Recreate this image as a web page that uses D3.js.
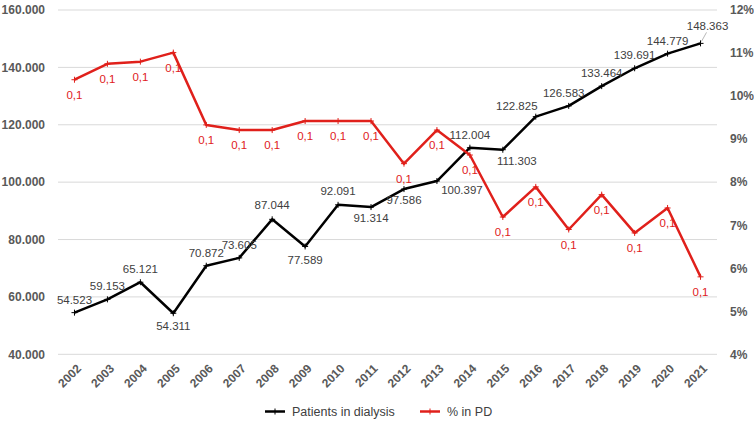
<!DOCTYPE html>
<html>
<head>
<meta charset="utf-8">
<script src="https://cdn.jsdelivr.net/npm/d3@7"></script>
<style>
  html, body { margin: 0; padding: 0; background: #fff; }
  svg { display: block; font-family: "Liberation Sans", Arial, sans-serif; }
</style>
</head>
<body>
<svg id="chart" width="754" height="425"></svg>
<script>
// ---- data ----
const years = ["2002","2003","2004","2005","2006","2007","2008","2009","2010","2011",
               "2012","2013","2014","2015","2016","2017","2018","2019","2020","2021"];
const patients = [54523, 59153, 65121, 54311, 70872, 73605, 87044, 77589, 92091, 91314,
                  97586, 100397, 112004, 111303, 122825, 126583, 133464, 139691, 144779, 148363];
const pdShare = [0.1038, 0.1075, 0.1080, 0.1101, 0.0933, 0.0921, 0.0921, 0.0942, 0.0942, 0.0942,
                 0.0843, 0.0921, 0.0863, 0.0719, 0.0789, 0.0690, 0.0771, 0.0682, 0.0740, 0.0580];
const leftTicks = [40000, 60000, 80000, 100000, 120000, 140000, 160000];
const rightTicks = [0.04, 0.05, 0.06, 0.07, 0.08, 0.09, 0.10, 0.11, 0.12];
const seriesNames = ["Patients in dialysis", "% in PD"];

// ---- label placement (layout config, not data) ----
const patientLabelOffset = [
  [0,-13],[0,-13],[0,-13],[0,13],[0,-13],[0,-13],[0,-14],[0,14],[0,-14],[0,11],
  [0,11],[25,9],[0,-13],[14,11],[-19,-11],[-5,-13],[0,-13],[0,-13],[0,-13],[7,-17]
];
const pdLabelOffset = 15;

// ---- setup ----
const svg = d3.select("#chart");
const black = "#000000", red = "#e0201b";
const axisColor = "#595959", labelColor = "#404040";
const locale = d3.formatLocale({decimal: ",", thousands: ".", grouping: [3], currency: ["", ""]});
const fmtPatients = locale.format(",d");
const fmtShare = locale.format(".1f");
const fmtPct = d3.format(".0%");

const x = d3.scalePoint().domain(years).range([58, 717]).padding(0.5);
const yL = d3.scaleLinear().domain([40000, 160000]).range([354.3, 10]);
const yR = d3.scaleLinear().domain([0.04, 0.12]).range([354.3, 10]);

// gridlines
svg.append("g").selectAll("line").data(leftTicks).join("line")
  .attr("x1", 58).attr("x2", 717)
  .attr("y1", d => yL(d)).attr("y2", d => yL(d))
  .attr("stroke", "#d9d9d9").attr("stroke-width", 1);

// left axis
const gL = svg.append("g").attr("transform", "translate(58,0)")
  .call(d3.axisLeft(yL).tickValues(leftTicks).tickSize(0).tickPadding(13).tickFormat(d => fmtPatients(d)));
gL.select(".domain").remove();
gL.selectAll("text").attr("fill", axisColor).attr("font-size", 12).attr("font-weight", "bold");

// right axis
const gR = svg.append("g").attr("transform", "translate(717,0)")
  .call(d3.axisRight(yR).tickValues(rightTicks).tickSize(0).tickPadding(13).tickFormat(fmtPct));
gR.select(".domain").remove();
gR.selectAll("text").attr("fill", axisColor).attr("font-size", 12).attr("font-weight", "bold");

// x axis
const gX = svg.append("g").attr("transform", "translate(0,354.3)")
  .call(d3.axisBottom(x).tickSize(0).tickPadding(0));
gX.select(".domain").remove();
gX.selectAll("text")
  .attr("fill", axisColor).attr("font-size", 12).attr("font-weight", "bold")
  .attr("text-anchor", "end")
  .attr("transform", "translate(4,12) rotate(-45)")
  .attr("dy", "0.35em");

// marker path
const plus = (cx, cy) => `M${cx-3},${cy}H${cx+3}M${cx},${cy-3}V${cy+3}`;

function drawSeries(values, yScale, color) {
  const line = d3.line().x((d, i) => x(years[i])).y(d => yScale(d));
  svg.append("path").datum(values)
    .attr("d", line).attr("fill", "none")
    .attr("stroke", color).attr("stroke-width", 2.5).attr("stroke-linejoin", "round");
  svg.append("g").selectAll("path").data(values).join("path")
    .attr("d", (d, i) => plus(x(years[i]), yScale(d)))
    .attr("stroke", color).attr("stroke-width", 1);
}

drawSeries(patients, yL, black);

// patient labels
const pl = svg.append("g");
pl.selectAll("text").data(patients).join("text")
  .attr("x", (d, i) => x(years[i]) + patientLabelOffset[i][0])
  .attr("y", (d, i) => yL(d) + patientLabelOffset[i][1])
  .attr("dy", "0.35em").attr("text-anchor", "middle")
  .attr("font-size", 11.5).attr("fill", labelColor)
  .text(d => fmtPatients(d));
// leader line for the last label
{
  const i = patients.length - 1;
  const px = x(years[i]), py = yL(patients[i]);
  pl.append("line")
    .attr("x1", px + 6).attr("y1", py - 11).attr("x2", px + 1).attr("y2", py - 2)
    .attr("stroke", "#a6a6a6").attr("stroke-width", 0.8);
}

drawSeries(pdShare.map(d => d), yR, red);

// pd labels
svg.append("g").selectAll("text").data(pdShare).join("text")
  .attr("x", (d, i) => x(years[i]))
  .attr("y", d => yR(d) + pdLabelOffset)
  .attr("dy", "0.35em").attr("text-anchor", "middle")
  .attr("font-size", 11.5).attr("fill", red)
  .text(d => fmtShare(d));

// legend
const legend = svg.append("g").attr("transform", "translate(0,411.5)");
const legendItems = [
  {name: seriesNames[0], color: black, x0: 265},
  {name: seriesNames[1], color: red, x0: 420}
];
legendItems.forEach(it => {
  legend.append("line").attr("x1", it.x0).attr("x2", it.x0 + 20).attr("y1", 0).attr("y2", 0)
    .attr("stroke", it.color).attr("stroke-width", 2.5);
  legend.append("path").attr("d", plus(it.x0 + 10, 0)).attr("stroke", it.color).attr("stroke-width", 1);
  legend.append("text").attr("x", it.x0 + 27).attr("y", 0).attr("dy", "0.35em")
    .attr("font-size", 12.5).attr("fill", labelColor).text(it.name);
});
</script>
</body>
</html>
